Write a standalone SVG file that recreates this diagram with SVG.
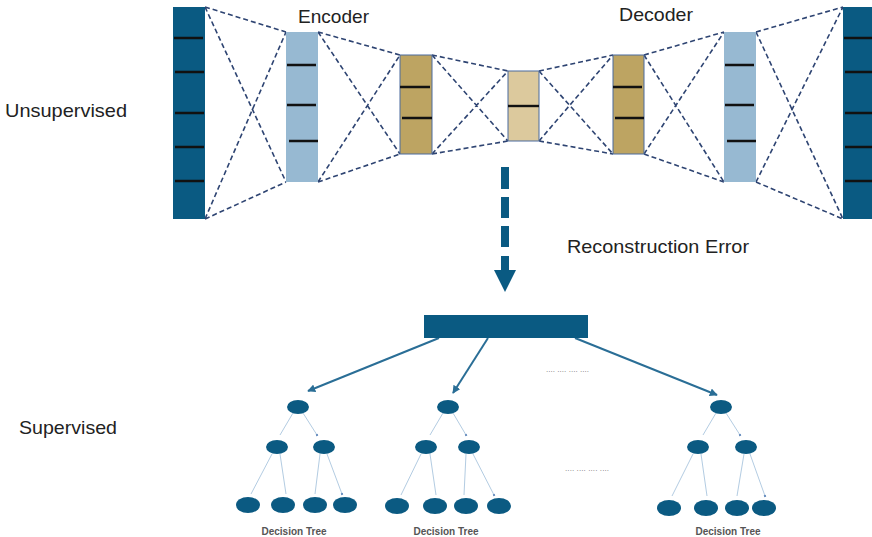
<svg xmlns="http://www.w3.org/2000/svg" width="872" height="537" viewBox="0 0 872 537">
<style>
.lbl{font-family:"Liberation Sans",Arial,sans-serif;fill:#222;font-size:19px}
.dt{font-family:"Liberation Sans",Arial,sans-serif;fill:#555;font-size:10px;font-weight:bold;text-anchor:middle}
.dots{font-family:"Liberation Sans",Arial,sans-serif;fill:#777;font-size:8px}
.dash{stroke:#2E4472;stroke-width:1.6;stroke-dasharray:5 3;fill:none}
.tick{stroke:#111;stroke-width:2.4}
.dark{fill:#0A5A82}
.lb{fill:#97B9D2}
.tan{fill:#BDA462;stroke:#4A6A9E;stroke-width:1}
.tanl{fill:#DCC99D;stroke:#4A6A9E;stroke-width:1}
.edge{stroke:#B3CCE2;stroke-width:1;fill:none;marker-end:url(#dot)}
.node{fill:#0B5A82}
.big{stroke:#2A6E96;stroke-width:2;fill:none;marker-end:url(#ah)}
</style>
<defs>
<marker id="ah" viewBox="0 0 10 10" refX="9" refY="5" markerWidth="4" markerHeight="4" orient="auto"><path d="M0,0 L10,5 L0,10 z" fill="#2A6E96"/></marker>
<marker id="dot" viewBox="0 0 10 10" refX="5" refY="5" markerWidth="3" markerHeight="3" orient="auto"><circle cx="5" cy="5" r="4" fill="#6A8FBF"/></marker>
</defs>
<rect width="872" height="537" fill="#fff"/>

<text class="lbl" x="5" y="117" textLength="122" lengthAdjust="spacingAndGlyphs">Unsupervised</text>
<text class="lbl" x="19" y="434" textLength="98" lengthAdjust="spacingAndGlyphs">Supervised</text>
<text class="lbl" x="298" y="23" textLength="71" lengthAdjust="spacingAndGlyphs">Encoder</text>
<text class="lbl" x="619" y="21" textLength="74" lengthAdjust="spacingAndGlyphs">Decoder</text>
<text class="lbl" x="567" y="253" textLength="182" lengthAdjust="spacingAndGlyphs">Reconstruction Error</text>

<g id="connectors">
<path class="dash" d="M205,7 L286,32 M205,7 L286,182 M205,219 L286,32 M205,219 L286,182"/>
<path class="dash" d="M318,32 L400,55 M318,32 L400,154 M318,182 L400,55 M318,182 L400,154"/>
<path class="dash" d="M432,55 L508,71 M432,55 L508,141 M432,154 L508,71 M432,154 L508,141"/>
<path class="dash" d="M539,71 L613,55 M539,71 L613,154 M539,141 L613,55 M539,141 L613,154"/>
<path class="dash" d="M644,55 L724,32 M644,55 L724,182 M644,154 L724,32 M644,154 L724,182"/>
<path class="dash" d="M756,32 L843,7 M756,32 L843,219 M756,182 L843,7 M756,182 L843,219"/>
<g fill="#0A5A82">
<rect x="501" y="167" width="8" height="22"/>
<rect x="501" y="197" width="8" height="21"/>
<rect x="501" y="226" width="8" height="21"/>
<rect x="501" y="256" width="8" height="15"/>
<path d="M494,270 L516,270 L505,292 z"/>
</g>
<path class="big" d="M439,338 L308,391"/>
<path class="big" d="M488,338 L453,393"/>
<path class="big" d="M575,338 L717,395"/>
<path class="edge" d="M293,413 L280,435 M303,413 L317,435"/>
<path class="edge" d="M272,454 L251,494 M280,454 L286,494 M320,454 L315,494 M327,454 L342,494"/>
<path class="edge" d="M443,413 L430,435 M453,413 L466,435"/>
<path class="edge" d="M421,454 L401,495 M430,454 L436,495 M466,454 L464,495 M473,454 L494,495"/>
<path class="edge" d="M716,413 L703,435 M726,413 L740,435"/>
<path class="edge" d="M693,454 L672,496 M701,454 L707,496 M744,454 L737,496 M750,454 L765,496"/>
</g>

<g id="input-layer">
<rect class="dark" x="173" y="7" width="32" height="212"/>
<path class="tick" d="M174,38H203M175,72H204M175,113H204M175,147H204M175,181H204"/>
</g>
<g id="enc-hidden1">
<rect class="lb" x="286" y="32" width="32" height="150"/>
<path class="tick" d="M287,65H316M287,105H316M289,141H318"/>
</g>
<g id="enc-hidden2">
<rect class="tan" x="400" y="55" width="32" height="99"/>
<path class="tick" d="M400,87H430M402,118H432"/>
</g>
<g id="bottleneck">
<rect class="tanl" x="508" y="71" width="31" height="70"/>
<path class="tick" d="M508,106H539"/>
</g>
<g id="dec-hidden1">
<rect class="tan" x="613" y="55" width="31" height="99"/>
<path class="tick" d="M613,87H642M615,118H644"/>
</g>
<g id="dec-hidden2">
<rect class="lb" x="724" y="32" width="32" height="150"/>
<path class="tick" d="M725,65H754M725,105H754M727,141H756"/>
</g>
<g id="output-layer">
<rect class="dark" x="843" y="7" width="32" height="212"/>
<path class="tick" d="M844,38H872M845,72H872M845,113H872M845,147H872M845,181H872"/>
</g>

<g id="forest-root">
<rect class="dark" x="424" y="315" width="164" height="23"/>
</g>
<text class="dots" x="546" y="372" textLength="43">.... .... .... ....</text>
<text class="dots" x="565" y="471" textLength="44">.... .... .... ....</text>

<g id="tree1">
<ellipse class="node" cx="298" cy="407" rx="11" ry="7"/>
<ellipse class="node" cx="277" cy="447" rx="11" ry="7"/>
<ellipse class="node" cx="324" cy="447" rx="11" ry="7"/>
<ellipse class="node" cx="248" cy="505" rx="12" ry="8"/>
<ellipse class="node" cx="283" cy="505" rx="12" ry="8"/>
<ellipse class="node" cx="315" cy="505" rx="12" ry="8"/>
<ellipse class="node" cx="345" cy="505" rx="12" ry="8"/>
<text class="dt" x="294" y="535">Decision Tree</text>
</g>
<g id="tree2">
<ellipse class="node" cx="448" cy="407" rx="11" ry="7"/>
<ellipse class="node" cx="426" cy="447" rx="11" ry="7"/>
<ellipse class="node" cx="469" cy="447" rx="11" ry="7"/>
<ellipse class="node" cx="397" cy="506" rx="12" ry="8"/>
<ellipse class="node" cx="435" cy="506" rx="12" ry="8"/>
<ellipse class="node" cx="466" cy="506" rx="12" ry="8"/>
<ellipse class="node" cx="499" cy="506" rx="12" ry="8"/>
<text class="dt" x="446" y="535">Decision Tree</text>
</g>
<g id="tree3">
<ellipse class="node" cx="721" cy="407" rx="11" ry="7"/>
<ellipse class="node" cx="698" cy="447" rx="11" ry="7"/>
<ellipse class="node" cx="746" cy="447" rx="11" ry="7"/>
<ellipse class="node" cx="669" cy="508" rx="12" ry="8"/>
<ellipse class="node" cx="706" cy="508" rx="12" ry="8"/>
<ellipse class="node" cx="737" cy="508" rx="12" ry="8"/>
<ellipse class="node" cx="764" cy="508" rx="12" ry="8"/>
<text class="dt" x="728" y="535">Decision Tree</text>
</g>
</svg>
